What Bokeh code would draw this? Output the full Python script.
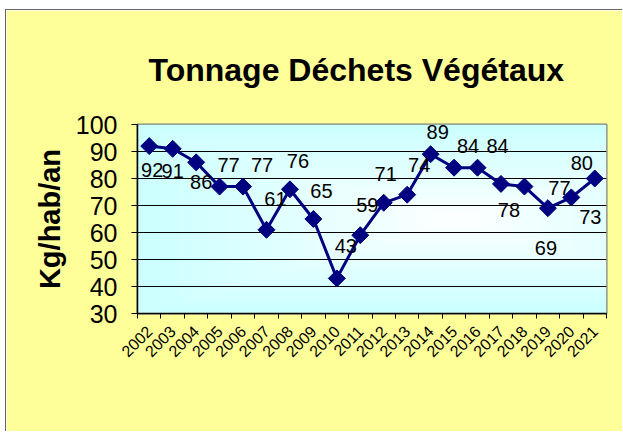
import numpy as np
from bokeh.plotting import figure
from bokeh.models import ColumnDataSource, FixedTicker, Title
from bokeh.embed import file_html
from bokeh.resources import INLINE

years = [2002, 2003, 2004, 2005, 2006, 2007, 2008, 2009, 2010, 2011,
         2012, 2013, 2014, 2015, 2016, 2017, 2018, 2019, 2020, 2021]
values = [92, 91, 86, 77, 77, 61, 76, 65, 43, 59,
          71, 74, 89, 84, 84, 78, 77, 69, 73, 80]
y_ticks = [30, 40, 50, 60, 70, 80, 90, 100]
title_text = "Tonnage Déchets Végétaux"

# label placement (screen px relative to point, style only)
lab_dx = [3, 0, 5, 9, 19, 9, 8, 8, 9, 7, 2, 12, 7, 14, 20, 8, 35, -2, 19, -13]
lab_dy = [24, 22, 20, -22, -22, -31, -28, -28, -32, -30, -29, -30, -22, -22, -22, 26, 1, 40, 20, -16]

FONT = "Liberation Sans"
x0, x1 = years[0] - 0.5, years[-1] + 0.5

p = figure(width=617, height=422, output_backend="svg", toolbar_location=None,
           x_range=(x0, x1), y_range=(30, 100),
           min_border_left=131, min_border_right=17, min_border_top=114, min_border_bottom=119)
p.styles = {"margin-left": "5px", "margin-top": "9px",
            "border-top": "1px solid #666666", "border-left": "1px solid #666666"}
p.background_fill_color = "#CCFFFF"
p.border_fill_color = "#FFFF99"
p.outline_line_color = "#808080"
p.outline_line_width = 2

# gradient background of plot area
nx, ny = 200, 100
gx = np.linspace(0, 1, nx)
gy = np.linspace(0, 1, ny)
GX, GY = np.meshgrid(gx, gy)
d = np.maximum(np.abs(GX - 0.68) / 0.68, np.abs(GY - 0.5) / 0.5)
d = np.clip(d, 0, 1) ** 0.9
r = (255 - (255 - 204) * d).astype(np.uint32)
img = np.empty((ny, nx), dtype=np.uint32)
view = img.view(dtype=np.uint8).reshape((ny, nx, 4))
view[:, :, 0] = r
view[:, :, 1] = 255
view[:, :, 2] = 255
view[:, :, 3] = 255
p.image_rgba(image=[img], x=x0, y=30, dw=x1 - x0, dh=70, level="image")

p.xgrid.visible = False
p.ygrid.grid_line_color = "black"
p.ygrid.grid_line_width = 1
p.ygrid.ticker = FixedTicker(ticks=y_ticks)

src = ColumnDataSource(dict(x=years, y=values, t=[str(v) for v in values],
                            dx=lab_dx, dy=lab_dy))
p.line("x", "y", source=src, line_color="#000080", line_width=3)
p.scatter("x", "y", source=src, marker="square", angle=np.pi / 4, size=12,
          fill_color="#000080", line_color="#000080")
p.text("x", "y", text="t", source=src, x_offset="dx", y_offset="dy",
       text_align="center", text_baseline="middle", text_font_size="20px",
       text_font={"value": FONT}, text_color="black")

# axes
yax = p.yaxis[0]
yax.ticker = FixedTicker(ticks=y_ticks)
yax.major_label_text_font = FONT
yax.major_label_text_font_size = "25px"
yax.major_label_text_color = "black"
yax.major_label_standoff = 14
yax.major_tick_out = 6
yax.major_tick_in = 0
yax.minor_tick_out = 0
yax.minor_tick_in = 0
yax.axis_line_color = "black"
yax.axis_line_width = 1.5
yax.axis_label = "Kg/hab/an"
yax.axis_label_text_font = FONT
yax.axis_label_text_font_size = "29px"
yax.axis_label_text_font_style = "bold"
yax.axis_label_text_color = "black"
yax.axis_label_standoff = 7

xax = p.xaxis[0]
xax.ticker = FixedTicker(ticks=years, minor_ticks=[y - 0.5 for y in years] + [years[-1] + 0.5])
xax.major_label_overrides = {y: str(y) for y in years}
xax.major_label_orientation = np.pi / 4
xax.major_label_text_font = FONT
xax.major_label_text_font_size = "16px"
xax.major_label_text_color = "black"
xax.major_label_standoff = 10
xax.major_tick_out = 0
xax.major_tick_in = 0
xax.minor_tick_out = 5
xax.minor_tick_in = 0
xax.minor_tick_line_color = "black"
xax.axis_line_color = "black"
xax.axis_line_width = 1.5

p.title = Title(text=title_text, align="left", text_font=FONT,
                text_font_size="32px", text_font_style="bold", text_color="black",
                standoff=74, offset=11)

open("out.html", "w").write(file_html(p, INLINE))
